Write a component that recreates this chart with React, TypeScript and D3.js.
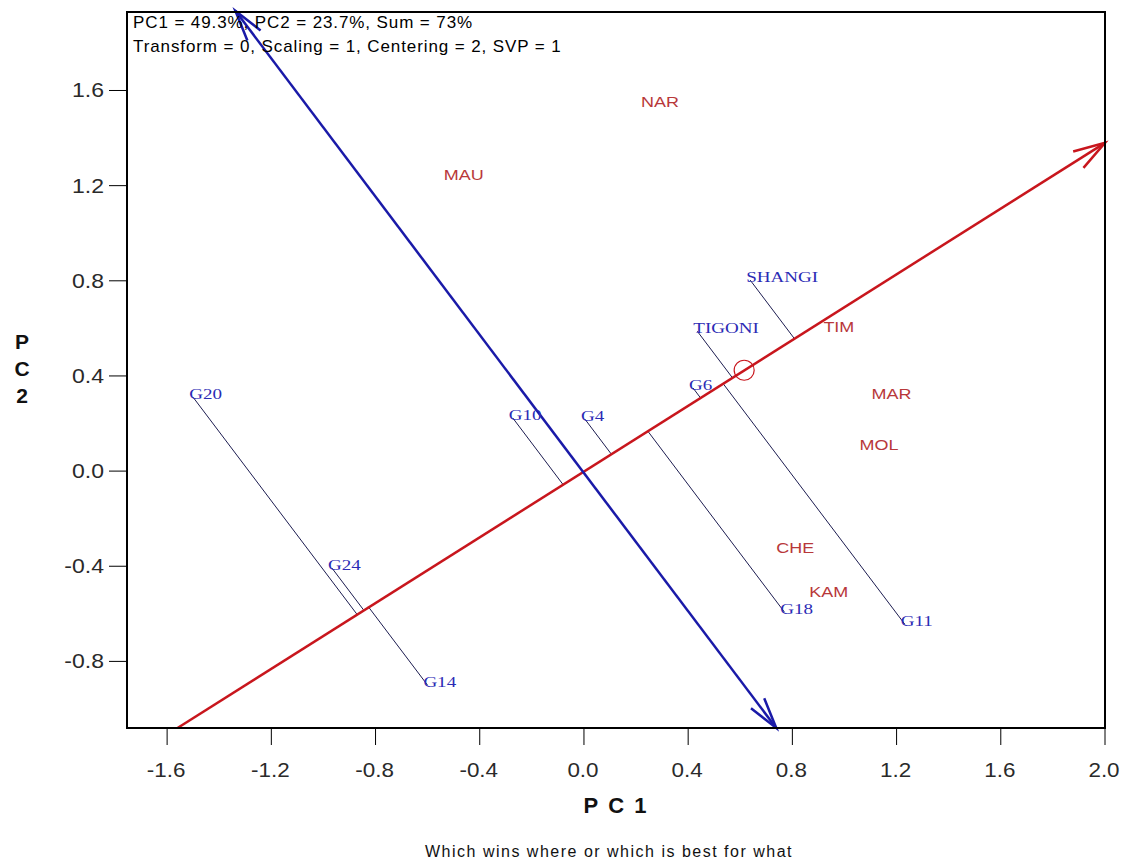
import React from "react";
import * as d3 from "d3";

// Genotype scores (PC1, PC2)
const genotypeNames = ["SHANGI", "TIGONI", "G6", "G10", "G4", "G20", "G24", "G14", "G18", "G11"];
const genotypePC1 = [0.638, 0.435, 0.419, -0.273, 0.004, -1.5, -0.967, -0.601, 0.769, 1.231];
const genotypePC2 = [0.803, 0.588, 0.349, 0.223, 0.218, 0.31, -0.408, -0.899, -0.592, -0.643];

// Environment scores (PC1, PC2)
const envNames = ["NAR", "MAU", "TIM", "MAR", "MOL", "CHE", "KAM"];
const envPC1 = [0.219, -0.538, 0.919, 1.104, 1.058, 0.738, 0.865];
const envPC2 = [1.55, 1.244, 0.605, 0.324, 0.109, -0.324, -0.508];

// Average environment coordinate and the two axes
const averageEnv = [0.615, 0.424];
const aecStart = [-1.56, -1.08];
const aecEnd = [2.0, 1.38];
const atcStart = [0.738, -1.08];
const atcEnd = [-1.338, 1.935];

const xTicks = [-1.6, -1.2, -0.8, -0.4, 0.0, 0.4, 0.8, 1.2, 1.6, 2.0];
const yTicks = [-0.8, -0.4, 0.0, 0.4, 0.8, 1.2, 1.6];

const headerLines = [
  "PC1 = 49.3%, PC2 = 23.7%, Sum = 73%",
  "Transform = 0, Scaling = 1, Centering = 2, SVP = 1",
];

const W = 1129;
const H = 861;
const left = 127, right = 1105, top = 12, bottom = 728;

const x = d3.scaleLinear().domain([-1.754, 2.0]).range([left, right]);
const y = d3.scaleLinear().domain([-1.08, 1.93]).range([bottom, top]);
const fmt = (v: number) => v.toFixed(1);

function arrowHead(px: number, py: number, fromX: number, fromY: number, len: number, deg: number) {
  const ang = Math.atan2(fromY - py, fromX - px);
  const a = (deg * Math.PI) / 180;
  const p1 = [px + len * Math.cos(ang + a), py + len * Math.sin(ang + a)];
  const p2 = [px + len * Math.cos(ang - a), py + len * Math.sin(ang - a)];
  return `M${p1[0]},${p1[1]}L${px},${py}L${p2[0]},${p2[1]}`;
}

export default function App() {
  const sans = "Arial, 'Liberation Sans', sans-serif";
  const serif = "'Times New Roman', 'Liberation Serif', serif";

  // unit vector of the average-environment axis
  const norm = Math.hypot(averageEnv[0], averageEnv[1]);
  const ux = averageEnv[0] / norm;
  const uy = averageEnv[1] / norm;

  const ax0 = x(aecStart[0]), ay0 = y(aecStart[1]);
  const ax1 = x(aecEnd[0]), ay1 = y(aecEnd[1]);
  const bx0 = x(atcStart[0]), by0 = y(atcStart[1]);
  const bx1 = x(atcEnd[0]), by1 = y(atcEnd[1]);

  const red = "#c8161d";
  const blue = "#1a1aa8";

  return (
    <svg
      width={W}
      height={H}
      style={{ position: "absolute", left: 0, top: 0, background: "#fff" }}
    >
      <rect x={0} y={0} width={W} height={H} fill="#fff" />

      {/* projection lines of genotypes onto the average-environment axis */}
      {genotypeNames.map((g, i) => {
        const d = genotypePC1[i] * ux + genotypePC2[i] * uy;
        const px = d * ux, py = d * uy;
        return (
          <line
            key={"p" + g}
            x1={x(genotypePC1[i])}
            y1={y(genotypePC2[i])}
            x2={x(px)}
            y2={y(py)}
            stroke="#1c1c50"
            strokeWidth={1}
          />
        );
      })}

      {/* average-environment axis */}
      <line x1={ax0} y1={ay0} x2={ax1} y2={ay1} stroke={red} strokeWidth={2.5} />
      <path d={arrowHead(ax1, ay1, ax0, ay0, 33, 17)} fill="none" stroke={red} strokeWidth={2.5} />

      {/* ordinate axis */}
      <line x1={bx0} y1={by0} x2={bx1} y2={by1} stroke={blue} strokeWidth={2.5} />
      <path d={arrowHead(bx0, by0, bx1, by1, 32, 15)} fill="none" stroke={blue} strokeWidth={2.5} />
      <path d={arrowHead(bx1, by1, bx0, by0, 32, 15)} fill="none" stroke={blue} strokeWidth={2.5} />

      {/* average environment marker */}
      <circle cx={x(averageEnv[0])} cy={y(averageEnv[1])} r={10} fill="none" stroke={red} strokeWidth={1.2} />

      {/* environment labels */}
      {envNames.map((e, i) => (
        <text
          key={e}
          transform={`translate(${x(envPC1[i])},${y(envPC2[i]) + 5}) scale(1.24,1)`}
          fontFamily={sans}
          fontSize={14.5}
          fill="#b8383a"
        >
          {e}
        </text>
      ))}

      {/* genotype labels */}
      {genotypeNames.map((g, i) => (
        <text
          key={g}
          transform={`translate(${x(genotypePC1[i]) - 4},${y(genotypePC2[i]) + 2}) scale(1.27,1)`}
          fontFamily={serif}
          fontSize={15}
          fill="#2b2bb5"
        >
          {g}
        </text>
      ))}

      {/* frame */}
      <rect x={left} y={top} width={right - left} height={bottom - top} fill="none" stroke="#000" strokeWidth={2} />

      {/* y axis ticks */}
      {yTicks.map((t) => (
        <g key={"y" + t}>
          <line x1={left - 18} x2={left} y1={y(t)} y2={y(t)} stroke="#000" strokeWidth={1} />
          <text
            transform={`translate(104,${y(t) + 7}) scale(1.18,1)`}
            textAnchor="end"
            fontFamily={sans}
            fontSize={19.5}
            fill="#2a2a2a"
          >
            {fmt(t)}
          </text>
        </g>
      ))}

      {/* x axis ticks */}
      {xTicks.map((t) => (
        <g key={"x" + t}>
          <line x1={x(t)} x2={x(t)} y1={bottom} y2={bottom + 17} stroke="#000" strokeWidth={1} />
          <text
            transform={`translate(${x(t) - 1},777) scale(1.15,1)`}
            textAnchor="middle"
            fontFamily={sans}
            fontSize={19.5}
            fill="#2a2a2a"
          >
            {fmt(t)}
          </text>
        </g>
      ))}

      {/* header */}
      {headerLines.map((l, i) => (
        <text key={l} x={133} y={28 + i * 24} fontFamily={sans} fontSize={17} letterSpacing={0.9} fill="#000">
          {l}
        </text>
      ))}

      {/* axis titles */}
      <text x={620} y={813} textAnchor="middle" fontFamily={sans} fontSize={22} fontWeight="bold" letterSpacing={10} fill="#111">
        PC1
      </text>
      {["P", "C", "2"].map((c, i) => (
        <text key={c} x={22} y={349 + i * 27} textAnchor="middle" fontFamily={sans} fontSize={21} fontWeight="bold" fill="#111">
          {c}
        </text>
      ))}
      <text x={609} y={857} textAnchor="middle" fontFamily={sans} fontSize={16} letterSpacing={1.5} fill="#111">
        Which wins where or which is best for what
      </text>
    </svg>
  );
}
